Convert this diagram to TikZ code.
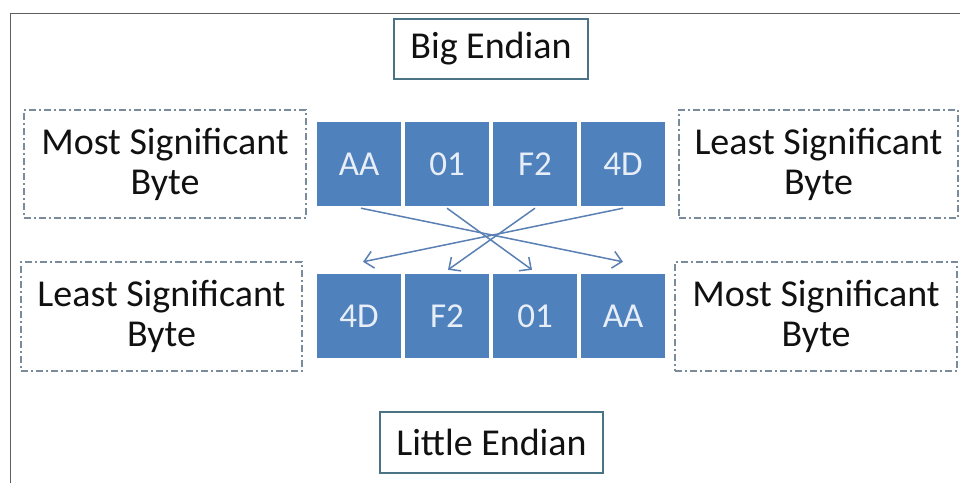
\documentclass[tikz,border=0pt]{standalone}
\usepackage{fontspec}
\setmainfont{Carlito}
\usetikzlibrary{arrows.meta}
\definecolor{bytefill}{HTML}{4F81BD}
\definecolor{bytetext}{HTML}{E8EEF7}
\definecolor{arrowcol}{HTML}{5A80B4}
\definecolor{dashcol}{HTML}{7A8C9C}
\definecolor{titlecol}{HTML}{4A7386}
\definecolor{framecol}{HTML}{5E5E5E}
\definecolor{textcol}{HTML}{111111}
\tikzset{
  bytebox/.style={fill=bytefill, text=bytetext, minimum width=84pt, minimum height=84pt,
    inner sep=0pt, font=\fontsize{35}{40}\selectfont},
  labelbox/.style={draw=dashcol, line width=1.1pt, dash pattern=on 7pt off 3pt on 2pt off 3pt,
    minimum height=108pt, inner sep=0pt, align=center, text=textcol,
    font=\fontsize{38}{40}\selectfont},
  titlebox/.style={draw=titlecol, line width=1.4pt, minimum height=60pt, inner sep=0pt,
    text=textcol, font=\fontsize{38}{40}\selectfont},
  swaparrow/.style={draw=arrowcol, line width=1.5pt, -{Straight Barb[length=9pt,width=17pt]}}
}
\begin{document}
\begin{tikzpicture}[x=1pt,y=-1pt]
\useasboundingbox (0,0) rectangle (960,483);
\fill[white] (0,0) rectangle (960,483);
% outer frame
\draw[framecol, line width=1.6pt] (10.5,483) -- (10.5,13.5) -- (960,13.5);
% titles
\node[titlebox, minimum width=194pt] (big) at (491,49) {Big Endian};
\node[titlebox, minimum width=223pt, minimum height=61pt] (little) at (491.5,442.5) {Little Endian};
% label boxes
\node[labelbox, minimum width=282pt] (tl) at (165,164) {Most Significant\\Byte};
\node[labelbox, minimum width=279pt] (tr) at (818.5,164) {Least Significant\\Byte};
\node[labelbox, minimum width=281pt, minimum height=109pt] (bl) at (161.5,316.5) {Least Significant\\Byte};
\node[labelbox, minimum width=282pt, minimum height=109pt] (br) at (816,316.5) {Most Significant\\Byte};
% top bytes
\node[bytebox] (tAA) at (359,164) {AA};
\node[bytebox] (t01) at (447,164) {01};
\node[bytebox] (tF2) at (535,164) {F2};
\node[bytebox] (t4D) at (623,164) {4D};
% bottom bytes
\node[bytebox] (b4D) at (359,316) {4D};
\node[bytebox] (bF2) at (447,316) {F2};
\node[bytebox] (b01) at (535,316) {01};
\node[bytebox] (bAA) at (623,316) {AA};
% arrows
\draw[swaparrow] ([xshift=2pt,yshift=-2pt]tAA.south) -- ([yshift=12pt]bAA.north);
\draw[swaparrow] ([yshift=-2pt]t01.south) -- ([xshift=-3pt,yshift=4pt]b01.north);
\draw[swaparrow] ([yshift=-2pt]tF2.south) -- ([xshift=1pt,yshift=4pt]bF2.north);
\draw[swaparrow] ([yshift=-2pt]t4D.south) -- ([xshift=4pt,yshift=12pt]b4D.north);
\end{tikzpicture}
\end{document}
